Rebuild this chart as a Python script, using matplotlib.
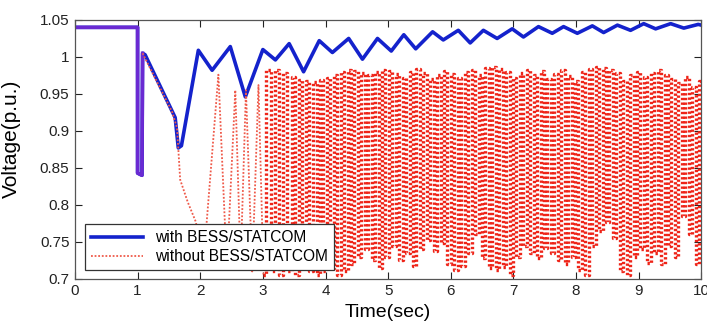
import numpy as np
import matplotlib.pyplot as plt

# ------------------------------------------------------------------
# DATA
# ------------------------------------------------------------------
# with BESS/STATCOM : vertices of the voltage curve
blue_t = [0.0, 1.0, 1.0, 1.07, 1.08, 1.12, 1.60, 1.65, 1.70,
          1.97, 2.19, 2.48, 2.72, 3.00, 3.20, 3.42, 3.65, 3.90,
          4.11, 4.37, 4.59, 4.83, 5.05, 5.25, 5.44, 5.71, 5.88,
          6.12, 6.31, 6.52, 6.74, 6.98, 7.16, 7.40, 7.62, 7.80,
          8.02, 8.26, 8.44, 8.66, 8.87, 9.08, 9.27, 9.51, 9.72,
          9.95, 10.0]
blue_v = [1.040, 1.040, 0.843, 0.840, 1.005, 1.003, 0.918, 0.877, 0.880,
          1.009, 0.982, 1.014, 0.946, 1.010, 0.996, 1.018, 0.980, 1.022,
          1.006, 1.025, 0.997, 1.025, 1.008, 1.030, 1.011, 1.034, 1.023,
          1.036, 1.019, 1.036, 1.025, 1.038, 1.027, 1.041, 1.032, 1.041,
          1.032, 1.042, 1.033, 1.043, 1.036, 1.045, 1.038, 1.045, 1.039,
          1.044, 1.043]

# without BESS/STATCOM : fault part before the oscillation starts
red_start_t = [0.0, 1.0, 1.0, 1.07, 1.08, 1.55, 1.63, 1.68, 1.80, 1.93, 2.05]
red_start_v = [1.040, 1.040, 0.843, 0.840, 1.005, 0.926, 0.904, 0.834, 0.804, 0.777, 0.720]

# oscillation peaks (time, value)
red_peak_t = [2.29, 2.56, 2.73, 2.93, 3.09, 3.23, 3.36, 3.49, 3.60, 3.71,
              3.83, 3.94, 4.05, 4.16, 4.27, 4.38, 4.49, 4.60, 4.71, 4.82,
              4.93, 5.04, 5.15, 5.26, 5.37, 5.48, 5.59, 5.70, 5.81, 5.92,
              6.03, 6.14, 6.25, 6.36, 6.47, 6.58, 6.69, 6.80, 6.91, 7.02,
              7.13, 7.24, 7.35, 7.46, 7.57, 7.68, 7.79, 7.90, 8.01, 8.12,
              8.23, 8.34, 8.45, 8.56, 8.67, 8.78, 8.89, 9.00, 9.11, 9.22,
              9.33, 9.44, 9.55, 9.66, 9.77, 9.88, 9.99]
red_peak_v = [0.976, 0.955, 0.955, 0.962, 0.983, 0.983, 0.978, 0.973, 0.969, 0.967,
              0.966, 0.969, 0.972, 0.976, 0.980, 0.983, 0.981, 0.978, 0.975, 0.979,
              0.983, 0.981, 0.977, 0.972, 0.980, 0.984, 0.978, 0.970, 0.976, 0.981,
              0.977, 0.972, 0.979, 0.983, 0.975, 0.985, 0.987, 0.984, 0.980, 0.972,
              0.978, 0.983, 0.976, 0.981, 0.970, 0.977, 0.982, 0.974, 0.968, 0.979,
              0.984, 0.986, 0.985, 0.983, 0.978, 0.968, 0.975, 0.980, 0.973, 0.978,
              0.982, 0.976, 0.970, 0.965, 0.973, 0.960, 0.968]
# oscillation troughs (one between each pair of peaks)
red_trough_v = [0.715, 0.720, 0.710, 0.705, 0.710, 0.705, 0.710, 0.705, 0.715, 0.710,
                0.705, 0.710, 0.715, 0.705, 0.710, 0.720, 0.730, 0.740, 0.725, 0.715,
                0.730, 0.745, 0.725, 0.735, 0.718, 0.740, 0.752, 0.738, 0.748, 0.720,
                0.712, 0.718, 0.735, 0.760, 0.728, 0.714, 0.712, 0.716, 0.705, 0.730,
                0.744, 0.735, 0.728, 0.742, 0.735, 0.725, 0.720, 0.730, 0.712, 0.705,
                0.745, 0.765, 0.777, 0.755, 0.710, 0.705, 0.730, 0.740, 0.722, 0.735,
                0.720, 0.745, 0.730, 0.785, 0.760, 0.720]

x_ticks = [0, 1, 2, 3, 4, 5, 6, 7, 8, 9, 10]
y_ticks = [0.7, 0.75, 0.8, 0.85, 0.9, 0.95, 1.0, 1.05]
y_tick_labels = ['0.7', '0.75', '0.8', '0.85', '0.9', '0.95', '1', '1.05']

# ------------------------------------------------------------------
# build the red series: start part, then peak / trough alternating
# ------------------------------------------------------------------
pk_t = np.array(red_peak_t)
trough_t = (pk_t[:-1] + pk_t[1:]) / 2.0

red_t = list(red_start_t)
red_v = list(red_start_v)
for i in range(len(red_peak_t)):
    red_t.append(red_peak_t[i])
    red_v.append(red_peak_v[i])
    if i < len(red_trough_v):
        red_t.append(trough_t[i])
        red_v.append(red_trough_v[i])
red_t = np.array(red_t)
red_v = np.array(red_v)

# the oscillation gets visibly denser/heavier after ~3 s
split = np.searchsorted(red_t, 3.0)

# ------------------------------------------------------------------
# FIGURE
# ------------------------------------------------------------------
plt.rcParams['font.family'] = ['Liberation Sans', 'DejaVu Sans']

fig = plt.figure(figsize=(7.07, 3.22), dpi=100)
ax = fig.add_axes([0.106, 0.134, 0.886, 0.804])

ax.plot(blue_t, blue_v, color='#1422cc', linewidth=2.6,
        solid_joinstyle='round', label='with BESS/STATCOM', zorder=2)
# overlap of both curves before the fault recovery looks purple
ax.plot(red_start_t[:5], red_start_v[:5], color='#6a2ad2', linewidth=2.5,
        solid_joinstyle='round', zorder=2.5)
ax.plot(red_t[4:split + 1], red_v[4:split + 1], color='#ef5a4a', linewidth=1.3,
        linestyle=(0, (1, 1)), zorder=3)
ax.plot(red_t[split:], red_v[split:], color='#ee2418', linewidth=2.4,
        linestyle=(0, (0.7, 0.7)), drawstyle='steps-mid', zorder=3)
# legend entry for the red curve
ax.plot([], [], color='#ef5a4a', linewidth=1.3, linestyle=(0, (1, 1)),
        label='without BESS/STATCOM')

ax.set_xlim(0, 10)
ax.set_ylim(0.7, 1.05)
ax.set_xticks(x_ticks)
ax.set_yticks(y_ticks)
ax.set_yticklabels(y_tick_labels)

ax.tick_params(direction='in', top=True, right=True, length=5,
               width=0.8, labelsize=11, colors='#222222', pad=4)
for sp in ax.spines.values():
    sp.set_color('#555555')
    sp.set_linewidth(0.9)

ax.set_xlabel('Time(sec)', fontsize=14, labelpad=4)
ax.set_ylabel('Voltage(p.u.)', fontsize=15)
ax.yaxis.set_label_coords(-0.087, 0.54)

leg = ax.legend(loc='lower left', bbox_to_anchor=(0.016, 0.033),
                borderaxespad=0, fontsize=11.2, handlelength=3.3,
                labelspacing=0.25, fancybox=False, framealpha=1,
                edgecolor='#333333')
leg.get_frame().set_linewidth(0.9)
leg.set_zorder(5)

plt.savefig('out.png', dpi=100)
